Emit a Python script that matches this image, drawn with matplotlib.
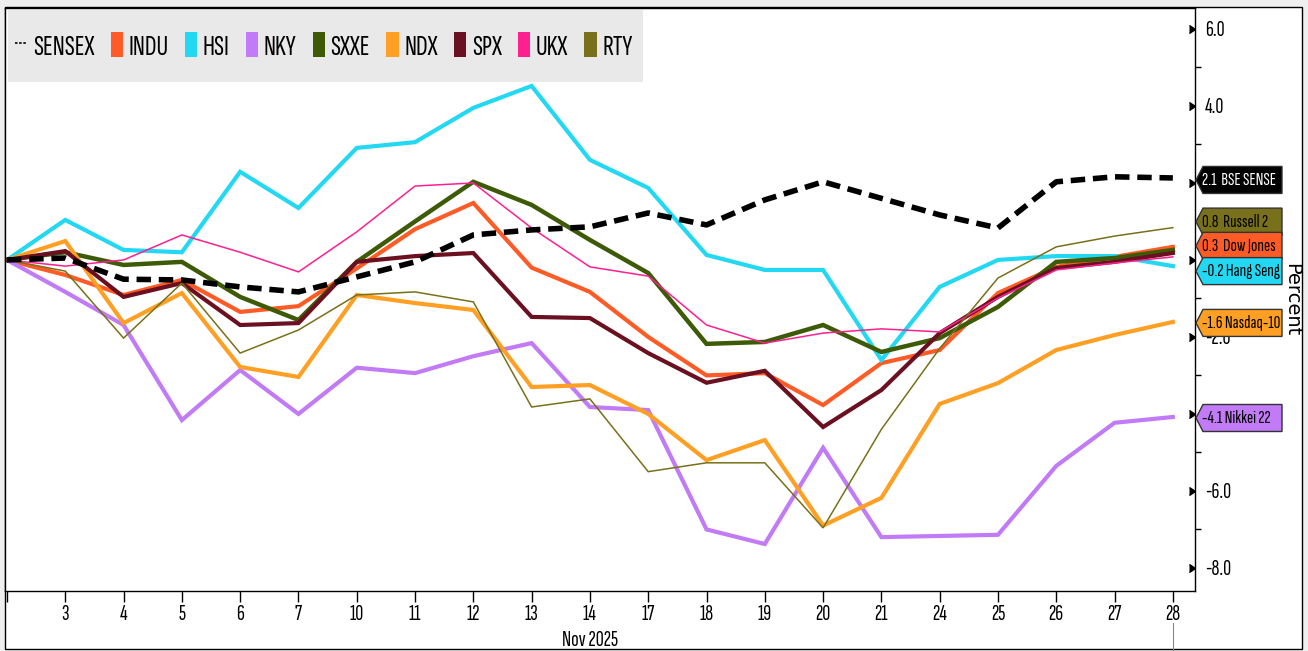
import matplotlib
matplotlib.use('Agg')
import matplotlib.pyplot as plt
import matplotlib.transforms as mtransforms
from matplotlib.lines import Line2D
from matplotlib.patches import Patch, Rectangle, Polygon
from matplotlib.ticker import FixedLocator, FixedFormatter

# ---------------- data ----------------
day_labels = ['', '3', '4', '5', '6', '7', '10', '11', '12', '13', '14', '17', '18',
              '19', '20', '21', '24', '25', '26', '27', '28']
month_label = 'Nov 2025'

y_ticks = [-8, -6, -4, -2, 0, 2, 4, 6]
# labels at 2.0, 0.0 and -4.0 sit behind the end-value tags in the reference
y_tick_labels = ['-8.0', '-6.0', '', '-2.0', '', '', '4.0', '6.0']

sensex = [0, 0.05, -0.5, -0.52, -0.7, -0.83, -0.44, -0.05, 0.65, 0.78, 0.86, 1.22,
          0.91, 1.56, 2.03, 1.6, 1.17, 0.83, 2.03, 2.16, 2.13]
indu = [0, -0.39, -0.91, -0.52, -1.35, -1.2, -0.22, 0.8, 1.48, -0.2, -0.83, -2.0,
        -3.0, -2.94, -3.77, -2.68, -2.34, -0.86, -0.18, 0.08, 0.34]
hsi = [0, 1.04, 0.26, 0.2, 2.29, 1.35, 2.91, 3.06, 3.95, 4.52, 2.6, 1.87, 0.13,
       -0.26, -0.26, -2.6, -0.7, 0.0, 0.1, 0.1, -0.16]
nky = [0, -0.83, -1.69, -4.16, -2.86, -4.0, -2.8, -2.94, -2.5, -2.16, -3.82, -3.9,
       -7.0, -7.38, -4.88, -7.2, -7.17, -7.14, -5.35, -4.23, -4.08]
sxxe = [0, 0.2, -0.13, -0.05, -0.96, -1.56, -0.05, 1.0, 2.03, 1.43, 0.52, -0.34,
        -2.18, -2.13, -1.69, -2.39, -2.03, -1.22, -0.05, 0.05, 0.26]
ndx = [0, 0.49, -1.64, -0.86, -2.78, -3.04, -0.91, -1.12, -1.3, -3.3, -3.25, -4.0,
       -5.2, -4.68, -6.9, -6.18, -3.74, -3.2, -2.34, -1.95, -1.61]
spx = [0, 0.23, -0.96, -0.6, -1.69, -1.64, -0.05, 0.1, 0.18, -1.48, -1.51, -2.42,
       -3.19, -2.88, -4.34, -3.38, -1.9, -0.96, -0.21, -0.05, 0.18]
ukx = [0, -0.16, 0.0, 0.65, 0.2, -0.31, 0.73, 1.92, 2.0, 0.83, -0.18, -0.42,
       -1.69, -2.16, -1.9, -1.79, -1.87, -0.99, -0.26, -0.08, 0.08]
rty = [0, -0.29, -2.03, -0.6, -2.42, -1.82, -0.91, -0.83, -1.09, -3.82, -3.61, -5.5,
       -5.27, -5.27, -6.96, -4.4, -2.3, -0.47, 0.34, 0.62, 0.84]

legend_names = ['SENSEX', 'INDU', 'HSI', 'NKY', 'SXXE', 'NDX', 'SPX', 'UKX', 'RTY']
tag_names = {'SENSEX': 'BSE SENSE', 'RTY': 'Russell 2', 'INDU': 'Dow Jones',
             'HSI': 'Hang Seng', 'NDX': 'Nasdaq-10', 'NKY': 'Nikkei 22'}

# ---------------- style ----------------
colors = {'SENSEX': 'black', 'INDU': '#FF5B26', 'HSI': '#22D8F2', 'NKY': '#C17BF7',
          'SXXE': '#3D5B06', 'NDX': '#FFA024', 'SPX': '#6B1020', 'UKX': '#FF2090',
          'RTY': '#78701A'}
widths = {'SENSEX': 4.0, 'INDU': 3.0, 'HSI': 3.0, 'NKY': 3.0, 'SXXE': 3.2, 'NDX': 3.0,
          'SPX': 3.0, 'UKX': 1.1, 'RTY': 1.1}
series = {'SENSEX': sensex, 'INDU': indu, 'HSI': hsi, 'NKY': nky, 'SXXE': sxxe,
          'NDX': ndx, 'SPX': spx, 'UKX': ukx, 'RTY': rty}

NARROW = ['Sofia Sans Extra Condensed', 'Saira ExtraCondensed', 'DejaVu Sans']

W, H = 1308, 651
fig = plt.figure(figsize=(W / 100, H / 100), dpi=100, facecolor='#efefef')
panel = Rectangle((5 / W, 2 / H), 1297 / W, 642 / H, transform=fig.transFigure,
                  fc='white', ec='black', lw=1.0, zorder=-5)
fig.patches.append(panel)

ax = fig.add_axes([5 / W, (H - 591) / H, 1190 / W, 583 / H], zorder=1)
ax.set_facecolor('white')

x = list(range(len(day_labels)))
for name in legend_names[1:]:
    ax.plot(x, series[name], color=colors[name], lw=widths[name],
            solid_joinstyle='miter', zorder=2)
ax.plot(x, sensex, color='black', lw=widths['SENSEX'], dashes=(2.6, 1.4),
        dash_capstyle='butt', zorder=3)

ax.set_xlim(-0.034, 20.38)
ax.set_ylim(-8.6, 6.545)

# x axis
ax.set_xticks(x)
ax.set_xticklabels(day_labels, family=NARROW, fontsize=16)
ax.tick_params(axis='x', direction='out', length=8, width=1, pad=2, color='black')
ax.text(10, -0.068, month_label, transform=ax.get_xaxis_transform(), ha='center',
        va='top', family=NARROW, fontsize=16)
ax.add_line(Line2D([20, 20], [-0.055, -0.11], transform=ax.get_xaxis_transform(),
                   color='#888888', lw=0.8, clip_on=False))

# y axis on right
ax.yaxis.tick_right()
ax.yaxis.set_major_locator(FixedLocator(y_ticks))
ax.yaxis.set_minor_locator(FixedLocator([-7, -5, -3, -1, 1, 3, 5]))
ax.yaxis.set_major_formatter(FixedFormatter(y_tick_labels))
ax.tick_params(axis='y', which='major', length=6, width=1, pad=1, labelsize=16)
ax.tick_params(axis='y', which='minor', length=4, width=1)
for t in ax.yaxis.get_major_ticks():
    t.tick2line.set_marker(5)
    t.tick2line.set_markersize(6)
for lab in ax.get_yticklabels():
    lab.set_family(NARROW)
ax.yaxis.set_label_position('right')
ax.set_ylabel('Percent', rotation=270, fontsize=14, family='DejaVu Sans')
ax.yaxis.set_label_coords(1.0895, 0.5)

for s in ax.spines.values():
    s.set_color('black')
    s.set_linewidth(1.0)

# legend
ax.add_patch(Rectangle((3 / 1190, (591 - 82) / 583), 635 / 1190, 72 / 583,
                       transform=ax.transAxes, fc='#e9e9e9', ec='none', zorder=4))
handles = [Line2D([], [], color='black', lw=1.2, dashes=(1.5, 1.0))]
handles += [Patch(fc=colors[n], ec='none') for n in legend_names[1:]]
leg = ax.legend(handles, legend_names, loc='center left', ncol=9, frameon=False,
                bbox_to_anchor=(10 / 1190, (591 - 46) / 583), borderpad=0,
                borderaxespad=0, handlelength=0.42, handleheight=0.9,
                handletextpad=0.2, columnspacing=0.55,
                prop={'family': NARROW, 'size': 21})
leg.set_zorder(5)

# end-value tags
ident = mtransforms.IdentityTransform()
x0 = ax.bbox.x1 + 1
tag_order = ['SENSEX', 'RTY', 'INDU', 'HSI', 'NDX', 'NKY']
tag_shift = {'SENSEX': -2, 'RTY': 6, 'INDU': 1, 'HSI': -5, 'NDX': -1, 'NKY': -1}
tag_h = 27
for i, n in enumerate(tag_order):
    v = series[n][-1]
    yc = ax.transData.transform((0, v))[1] + tag_shift[n]
    poly = Polygon([(x0, yc), (x0 + 7, yc + tag_h / 2), (x0 + 86, yc + tag_h / 2),
                    (x0 + 86, yc - tag_h / 2), (x0 + 7, yc - tag_h / 2)],
                   closed=True, transform=ident, fc=colors[n], ec='#333333', lw=1,
                   zorder=10 + i)
    fig.add_artist(poly)
    sep = ' ' if v < 0 else '  '
    fig.text(x0 + 6, yc, f"{v:.1f}{sep}{tag_names[n]}", transform=ident, ha='left',
             va='center', color='white' if n == 'SENSEX' else 'black',
             family=NARROW, fontsize=13.5, zorder=11 + i)

fig.savefig('out.png', dpi=100, facecolor=fig.get_facecolor())
